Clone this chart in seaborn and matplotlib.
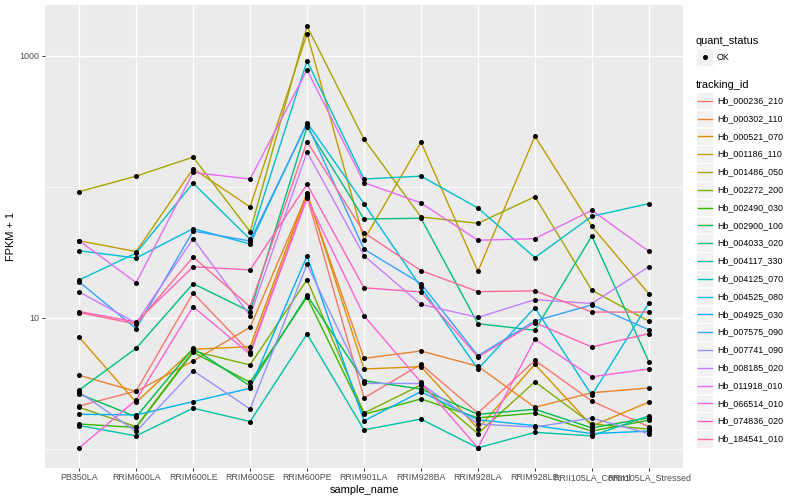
import matplotlib
matplotlib.use("Agg")
import matplotlib.pyplot as plt
import seaborn as sns
import pandas as pd
from matplotlib import lines, patches
from matplotlib.ticker import FixedLocator, NullFormatter

samples = ["PB350LA", "RRIM600LA", "RRIM600LE", "RRIM600SE", "RRIM600PE", "RRIM901LA",
           "RRIM928BA", "RRIM928LA", "RRIM928LE", "RRII105LA_Control", "RRII105LA_Stressed"]

tracking_ids = ["Hb_000236_210", "Hb_000302_110", "Hb_000521_070", "Hb_001186_110", "Hb_001486_050",
                "Hb_002272_200", "Hb_002490_030", "Hb_002900_100", "Hb_004033_020", "Hb_004117_330",
                "Hb_004125_070", "Hb_004525_080", "Hb_004925_030", "Hb_007575_090", "Hb_007741_090",
                "Hb_008185_020", "Hb_011918_010", "Hb_066514_010", "Hb_074836_020", "Hb_184541_010"]

# FPKM + 1 per sample, one list per tracking id
hb_000236_210 = [2.13, 2.77, 15.5, 5.47, 84.9, 2.45, 4.43, 1.88, 4.75, 2.32, 1.48]
hb_000302_110 = [3.65, 2.75, 4.70, 8.49, 88.0, 4.92, 5.60, 4.28, 2.08, 2.69, 2.92]
hb_000521_070 = [7.12, 2.27, 5.77, 6.04, 90.5, 4.08, 4.25, 1.43, 4.43, 1.50, 2.28]
hb_001186_110 = [38.9, 32.1, 138, 70.4, 1480, 39.4, 220, 22.7, 244, 50.1, 15.3]
hb_001486_050 = [92.1, 121, 169, 45.6, 1685, 232, 59.0, 52.8, 84.3, 16.3, 9.44]
hb_002272_200 = [2.08, 1.48, 5.60, 4.38, 19.6, 1.88, 3.08, 1.31, 3.26, 1.55, 1.42]
hb_002490_030 = [1.55, 1.46, 5.47, 3.23, 14.4, 1.84, 2.41, 1.73, 1.88, 1.37, 1.66]
hb_002900_100 = [2.63, 1.76, 5.87, 3.03, 14.9, 3.32, 2.87, 1.84, 2.01, 1.45, 1.73]
hb_004033_020 = [2.82, 5.87, 18.3, 11.2, 287, 57.0, 57.7, 9.05, 8.06, 42.3, 4.64]
hb_004117_330 = [1.51, 1.26, 2.05, 1.62, 7.55, 1.40, 1.69, 1.02, 1.34, 1.26, 1.79]
hb_004125_070 = [19.5, 31.3, 107, 39.9, 916, 115, 121, 69.1, 28.9, 59.8, 74.6]
hb_004525_080 = [32.6, 28.7, 48.1, 36.7, 310, 74.6, 17.2, 4.08, 12.0, 2.57, 13.0]
hb_004925_030 = [1.84, 1.82, 2.30, 2.91, 29.7, 1.64, 2.74, 1.67, 1.51, 1.31, 1.37]
hb_007575_090 = [18.9, 8.28, 46.1, 38.7, 303, 33.5, 18.3, 5.15, 9.49, 12.6, 8.14]
hb_007741_090 = [2.72, 1.36, 3.96, 2.02, 25.7, 3.17, 3.16, 1.55, 1.47, 1.72, 1.31]
hb_008185_020 = [15.8, 9.16, 40.3, 10.4, 185, 29.9, 12.7, 10.1, 13.8, 12.9, 24.6]
hb_011918_010 = [38.9, 18.6, 129, 115, 782, 108, 75.5, 39.2, 40.3, 66.4, 32.3]
hb_066514_010 = [1.02, 2.37, 12.2, 5.28, 82.0, 10.4, 3.23, 1.02, 6.88, 3.56, 4.08]
hb_074836_020 = [11.2, 9.32, 24.6, 23.3, 105, 17.0, 15.8, 5.04, 9.21, 6.01, 7.59]
hb_184541_010 = [11.0, 9.00, 29.2, 12.2, 222, 44.8, 23.0, 15.9, 16.1, 11.1, 11.1]

series = [hb_000236_210, hb_000302_110, hb_000521_070, hb_001186_110, hb_001486_050,
          hb_002272_200, hb_002490_030, hb_002900_100, hb_004033_020, hb_004117_330,
          hb_004125_070, hb_004525_080, hb_004925_030, hb_007575_090, hb_007741_090,
          hb_008185_020, hb_011918_010, hb_066514_010, hb_074836_020, hb_184541_010]

# ggplot2 default hue palette for 20 groups
colors = ["#F8766D", "#EA8331", "#D89000", "#C09B00", "#A3A500", "#7CAE00", "#39B600",
          "#00BB4E", "#00BF7D", "#00C1A3", "#00BFC4", "#00BAE0", "#00B0F6", "#35A2FF",
          "#9590FF", "#C77CFF", "#E76BF3", "#FA62DB", "#FF62BC", "#FF6C91"]

rows = []
for tid, vals in zip(tracking_ids, series):
    for s, v in zip(samples, vals):
        rows.append({"tracking_id": tid, "sample_name": s, "fpkm1": v, "quant_status": "OK"})
df = pd.DataFrame(rows)

plt.rcParams['font.family'] = ['Liberation Sans', 'DejaVu Sans']

fig = plt.figure(figsize=(8, 5), dpi=100)
ax = fig.add_axes([45 / 800, 1 - 468 / 500, (683 - 45) / 800, (468 - 5) / 500])
ax.set_facecolor("#EBEBEB")

sns.lineplot(data=df, x="sample_name", y="fpkm1", hue="tracking_id", hue_order=tracking_ids,
             palette=colors, sort=False, estimator=None, linewidth=1.0, legend=False, ax=ax, zorder=3)
sns.scatterplot(data=df, x="sample_name", y="fpkm1", color="black", s=13, linewidth=0,
                legend=False, ax=ax, zorder=4)

ax.set_yscale("log")
ax.set_ylim(0.716, 2450)
ax.set_xlim(-0.6, len(samples) - 0.4)
ax.yaxis.set_major_locator(FixedLocator([10, 1000]))
ax.yaxis.set_minor_locator(FixedLocator([1, 100]))
ax.yaxis.set_minor_formatter(NullFormatter())
ax.set_yticklabels(["10", "1000"])

ax.grid(which="major", color="white", linewidth=1.0)
ax.grid(which="minor", axis="y", color="white", linewidth=0.5)
ax.set_axisbelow(True)
for sp in ax.spines.values():
    sp.set_visible(False)
ax.tick_params(which="major", length=2, width=0.7, color="#333333", labelcolor="#4D4D4D",
               labelsize=6.4, pad=1.8)
ax.tick_params(which="minor", length=0)

ax.set_xlabel("sample_name", fontsize=7.9, color="black", labelpad=2)
ax.set_ylabel("FPKM + 1", fontsize=7.9, color="black", labelpad=3)


def fx(px):
    return px / 800


def fy(py):
    return 1 - py / 500


# legend: quant_status
fig.text(fx(696), fy(41), "quant_status", fontsize=7.9, va="center", ha="left")
fig.add_artist(patches.Rectangle((fx(696), fy(65.5)), 17 / 800, 17 / 500, transform=fig.transFigure,
                                 facecolor="#F2F2F2", edgecolor="white", linewidth=0.6))
fig.add_artist(lines.Line2D([fx(704.5)], [fy(57)], marker="o", markersize=2.6, color="black",
                            linestyle="none", transform=fig.transFigure))
fig.text(fx(717), fy(57), "OK", fontsize=6.4, va="center", ha="left")

# legend: tracking_id
fig.text(fx(696), fy(85), "tracking_id", fontsize=7.9, va="center", ha="left")
for i, (tid, col) in enumerate(zip(tracking_ids, colors)):
    cy = 100.7 + i * 17.8
    fig.add_artist(patches.Rectangle((fx(696), fy(cy + 8.6)), 17 / 800, 17.3 / 500,
                                     transform=fig.transFigure, facecolor="#F2F2F2",
                                     edgecolor="white", linewidth=0.6))
    fig.add_artist(lines.Line2D([fx(698), fx(712)], [fy(cy), fy(cy)], color=col, linewidth=1.0,
                                transform=fig.transFigure))
    fig.text(fx(717), fy(cy), tid, fontsize=6.4, va="center", ha="left")

fig.savefig("out.png", dpi=100)
